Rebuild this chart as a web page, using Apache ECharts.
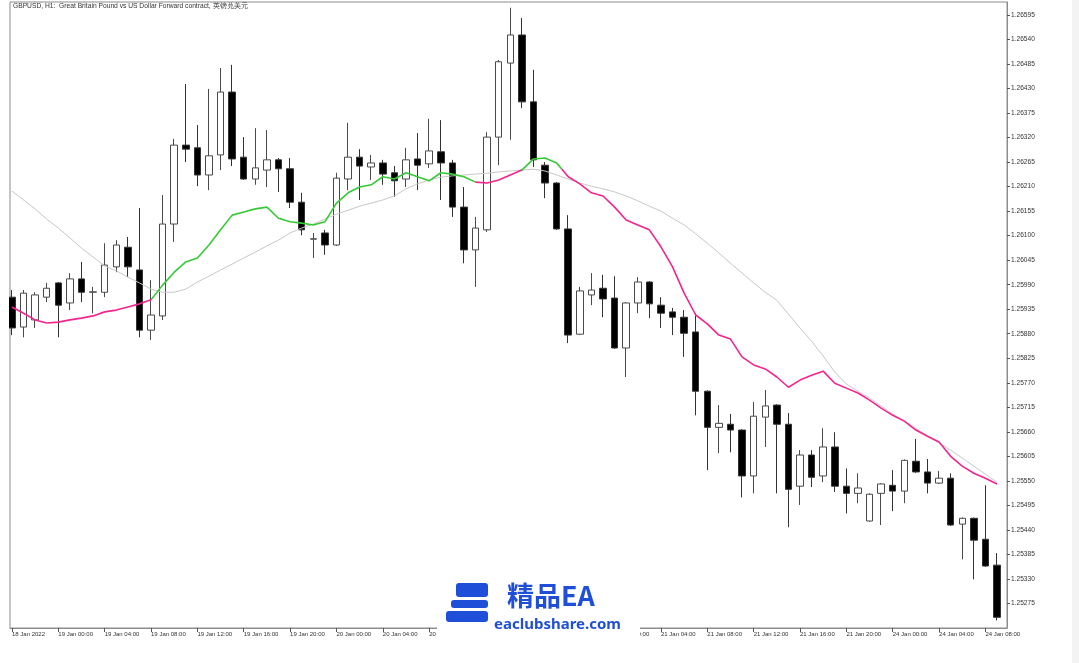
<!DOCTYPE html>
<html><head><meta charset="utf-8">
<script src="https://cdn.jsdelivr.net/npm/echarts/dist/echarts.min.js"></script>
<style>html,body{margin:0;padding:0;background:#fff}#c{width:1079px;height:663px}</style>
</head><body><div id="c"></div>
<script>
const opens = [1.25962,1.25895,1.25911,1.25962,1.25994,1.25949,1.26003,1.25973,1.25973,1.26030,
1.26074,1.26023,1.25888,1.25920,1.26126,1.26303,1.26297,1.26236,1.26281,1.26422,
1.26276,1.26227,1.26247,1.26270,1.26250,1.26175,1.26092,1.26106,1.26079,1.26227,
1.26276,1.26254,1.26263,1.26241,1.26227,1.26272,1.26261,1.26288,1.26263,1.26164,
1.26068,1.26113,1.26321,1.26487,1.26550,1.26400,1.26258,1.26218,1.26115,1.25879,
1.25967,1.25982,1.25960,1.25848,1.25949,1.25996,1.25944,1.25929,1.25917,1.25884,
1.25751,1.25670,1.25677,1.25664,1.25561,1.25693,1.25720,1.25677,1.25538,1.25608,
1.25561,1.25626,1.25538,1.25522,1.25460,1.25522,1.25540,1.25527,1.25594,1.25570,
1.25545,1.25556,1.25453,1.25466,1.25419,1.25361];
const closes = [1.25893,1.25971,1.25967,1.25982,1.25944,1.26003,1.25973,1.25974,1.26034,1.26079,
1.26030,1.25888,1.25922,1.26126,1.26303,1.26294,1.26236,1.26279,1.26422,1.26272,
1.26227,1.26252,1.26270,1.26250,1.26175,1.26113,1.26093,1.26079,1.26229,1.26276,
1.26256,1.26263,1.26238,1.26223,1.26270,1.26258,1.26290,1.26263,1.26164,1.26068,
1.26117,1.26321,1.26490,1.26550,1.26400,1.26270,1.26218,1.26115,1.25877,1.25976,
1.25978,1.25958,1.25848,1.25949,1.25996,1.25947,1.25926,1.25917,1.25881,1.25751,
1.25670,1.25679,1.25664,1.25561,1.25695,1.25718,1.25677,1.25531,1.25608,1.25558,
1.25626,1.25538,1.25522,1.25534,1.25520,1.25543,1.25527,1.25596,1.25570,1.25545,
1.25556,1.25451,1.25466,1.25417,1.25359,1.25244];
const lows = [1.25877,1.25872,1.25893,1.25951,1.25872,1.25933,1.25951,1.25926,1.25962,1.26018,
1.26007,1.25872,1.25866,1.25911,1.26086,1.26265,1.26211,1.26202,1.26247,1.26256,
1.26225,1.26214,1.26209,1.26198,1.26162,1.26101,1.26050,1.26057,1.26077,1.26202,
1.26180,1.26225,1.26214,1.26187,1.26209,1.26202,1.26252,1.26180,1.26142,1.26038,
1.25985,1.26108,1.26258,1.26315,1.26386,1.26254,1.26184,1.26113,1.25859,1.25877,
1.25944,1.25917,1.25846,1.25783,1.25926,1.25915,1.25893,1.25877,1.25828,1.25697,
1.25574,1.25612,1.25614,1.25513,1.25522,1.25626,1.25522,1.25446,1.25496,1.25536,
1.25547,1.25525,1.25477,1.25500,1.25458,1.25451,1.25482,1.25500,1.25568,1.25522,
1.25543,1.25449,1.25374,1.25329,1.25357,1.25237];
const highs = [1.25978,1.25978,1.25973,1.25994,1.25996,1.26016,1.26041,1.25985,1.26083,1.26090,
1.26097,1.26162,1.26000,1.26191,1.26317,1.26440,1.26348,1.26429,1.26476,1.26483,
1.26321,1.26341,1.26337,1.26274,1.26274,1.26196,1.26106,1.26113,1.26241,1.26353,
1.26294,1.26281,1.26270,1.26256,1.26297,1.26330,1.26362,1.26359,1.26270,1.26209,
1.26142,1.26332,1.26494,1.26611,1.26588,1.26472,1.26265,1.26220,1.26146,1.25985,
1.26016,1.26012,1.26009,1.25951,1.26007,1.25998,1.25962,1.25938,1.25933,1.25926,
1.25753,1.25720,1.25700,1.25666,1.25727,1.25754,1.25722,1.25702,1.25619,1.25619,
1.25668,1.25659,1.25578,1.25567,1.25522,1.25545,1.25574,1.25598,1.25644,1.25599,
1.25572,1.25567,1.25468,1.25468,1.25540,1.25388];
const maFast = [1.25940,1.25926,1.25911,1.25904,1.25906,1.25911,1.25915,1.25920,1.25929,1.25933,
1.25940,1.25947,1.25956,1.25989,1.26018,1.26041,1.26050,1.26079,1.26113,1.26146,
1.26153,1.26160,1.26164,1.26139,1.26131,1.26128,1.26124,1.26131,1.26173,1.26196,
1.26209,1.26214,1.26232,1.26227,1.26241,1.26232,1.26223,1.26241,1.26238,1.26232,
1.26220,1.26218,1.26225,1.26236,1.26247,1.26272,1.26274,1.26263,1.26232,1.26216,
1.26196,1.26189,1.26164,1.26135,1.26124,1.26113,1.26075,1.26030,1.25971,1.25922,
1.25902,1.25877,1.25868,1.25828,1.25810,1.25801,1.25783,1.25760,1.25776,1.25787,
1.25796,1.25769,1.25758,1.25747,1.25731,1.25713,1.25697,1.25684,1.25664,1.25650,
1.25637,1.25605,1.25583,1.25567,1.25556,1.25543];
const maSlow = [1.26200,1.26180,1.26160,1.26137,1.26117,1.26095,1.26072,1.26052,1.26032,1.26021,
1.26007,1.25994,1.25980,1.25973,1.25973,1.25980,1.25996,1.26009,1.26023,1.26036,
1.26050,1.26063,1.26077,1.26090,1.26106,1.26117,1.26126,1.26137,1.26148,1.26157,
1.26166,1.26173,1.26180,1.26189,1.26205,1.26216,1.26225,1.26231,1.26234,1.26236,
1.26238,1.26240,1.26243,1.26245,1.26247,1.26249,1.26245,1.26236,1.26227,1.26218,
1.26211,1.26205,1.26198,1.26189,1.26178,1.26166,1.26155,1.26139,1.26124,1.26104,
1.26083,1.26061,1.26038,1.26016,1.25994,1.25973,1.25955,1.25924,1.25893,1.25863,
1.25830,1.25794,1.25767,1.25751,1.25736,1.25718,1.25700,1.25684,1.25668,1.25650,
1.25635,1.25619,1.25601,1.25583,1.25565,1.25547];
const timeTickBars = [0,4,8,12,16,20,24,28,32,36,40,44,48,52,56,60,64,68,72,76,80,84];
const timeTickLabels = ["18 Jan 2022","19 Jan 00:00","19 Jan 04:00","19 Jan 08:00","19 Jan 12:00","19 Jan 16:00",
"19 Jan 20:00","20 Jan 00:00","20 Jan 04:00","20 Jan 08:00","20 Jan 12:00","20 Jan 16:00","20 Jan 20:00",
"21 Jan 00:00","21 Jan 04:00","21 Jan 08:00","21 Jan 12:00","21 Jan 16:00","21 Jan 20:00",
"24 Jan 00:00","24 Jan 04:00","24 Jan 08:00"];
const priceTicks = [1.25275,1.25330,1.25385,1.25440,1.25495,1.25550,1.25605,1.25660,1.25715,1.25770,
1.25825,1.25880,1.25935,1.25990,1.26045,1.26100,1.26155,1.26210,1.26265,1.26320,1.26375,1.26430,
1.26485,1.26540,1.26595];
const titleText = "GBPUSD, H1:  Great Britain Pound vs US Dollar Forward contract, 英镑兑美元";

const candleData = opens.map((o, i) => [i, o, closes[i], lows[i], highs[i]]);
const fastData = maFast.map((v, i) => [i, v]);
const slowData = maSlow.map((v, i) => [i, v]);

const GREEN = '#36c936', PINK = '#f2258e', BLUE = '#1f4fd8';
const chart = echarts.init(document.getElementById('c'), null, {renderer: 'canvas'});
chart.setOption({
  animation: false,
  backgroundColor: '#ffffff',
  grid: {left: 10, right: 72, top: 2, bottom: 35, show: true, borderColor: '#8c8c8c', borderWidth: 1},
  xAxis: {
    type: 'value', min: -0.17, max: 85.86,
    axisLine: {show: true, onZero: false, lineStyle: {color: '#8c8c8c'}},
    axisTick: {show: true, customValues: timeTickBars, length: 4, lineStyle: {color: '#555'}},
    axisLabel: {customValues: timeTickBars, align: 'left', fontSize: 6, color: '#333', margin: 3,
      fontFamily: 'Liberation Sans',
      formatter: v => { const k = timeTickBars.indexOf(Math.round(v)); return k >= 0 ? timeTickLabels[k] : ''; }},
    splitLine: {show: false}
  },
  yAxis: {
    type: 'value', position: 'right', min: 1.2522, max: 1.26624,
    axisLine: {show: true, onZero: false, lineStyle: {color: '#8c8c8c'}},
    axisTick: {show: true, customValues: priceTicks, length: 3, lineStyle: {color: '#555'}},
    axisLabel: {customValues: priceTicks, fontSize: 6.6, color: '#333', margin: 4, fontFamily: 'Liberation Sans',
      formatter: v => v.toFixed(5)},
    splitLine: {show: false}
  },
  visualMap: {
    type: 'piecewise', show: false, seriesIndex: 2, dimension: 0,
    pieces: [
      {lt: 12, color: PINK}, {gte: 12, lt: 40, color: GREEN}, {gte: 40, lt: 44, color: PINK},
      {gte: 44, lt: 47.5, color: GREEN}, {gte: 47.5, color: PINK}
    ]
  },
  series: [
    {type: 'candlestick', data: candleData, encode: {x: 0, y: [1, 2, 3, 4]}, barWidth: 7, z: 2,
     itemStyle: {color: '#ffffff', color0: '#000000', borderColor: '#4a4a4a', borderColor0: '#333333', borderWidth: 1}},
    {type: 'line', data: slowData, symbol: 'none', z: 3, lineStyle: {color: '#c8c8c8', width: 1}},
    {type: 'line', data: fastData, symbol: 'none', z: 4, lineStyle: {width: 1.6}}
  ],
  graphic: [
    {type: 'rect', z: 100, shape: {x: 0, y: 0, width: 9, height: 640}, style: {fill: '#ffffff'}},
    {type: 'rect', z: 100, shape: {x: 1072, y: 0, width: 7, height: 663}, style: {fill: '#f3f3f3'}},
    {type: 'text', z: 100, x: 13, y: 6, style: {text: titleText, fontSize: 6.7, fill: '#333', verticalAlign: 'middle', fontFamily: 'Liberation Sans'}},
    {type: 'rect', z: 100, shape: {x: 437, y: 572, width: 203, height: 91}, style: {fill: '#ffffff'}},
    {type: 'rect', z: 101, shape: {x: 456, y: 583, width: 32, height: 14, r: 3}, style: {fill: BLUE}},
    {type: 'rect', z: 101, shape: {x: 451, y: 600, width: 37, height: 8, r: 3}, style: {fill: BLUE}},
    {type: 'rect', z: 101, shape: {x: 446, y: 611, width: 42, height: 11, r: 3}, style: {fill: BLUE}},
    {type: 'text', z: 101, x: 507, y: 596, style: {text: '精品EA', fontSize: 27, fontWeight: 'bold', fill: BLUE, verticalAlign: 'middle', fontFamily: 'Noto Sans CJK SC'}},
    {type: 'text', z: 101, x: 494, y: 625, style: {text: 'eaclubshare.com', fontSize: 15, fontWeight: 'bold', fill: BLUE, verticalAlign: 'middle', fontFamily: 'Noto Sans'}}
  ]
});
</script></body></html>
